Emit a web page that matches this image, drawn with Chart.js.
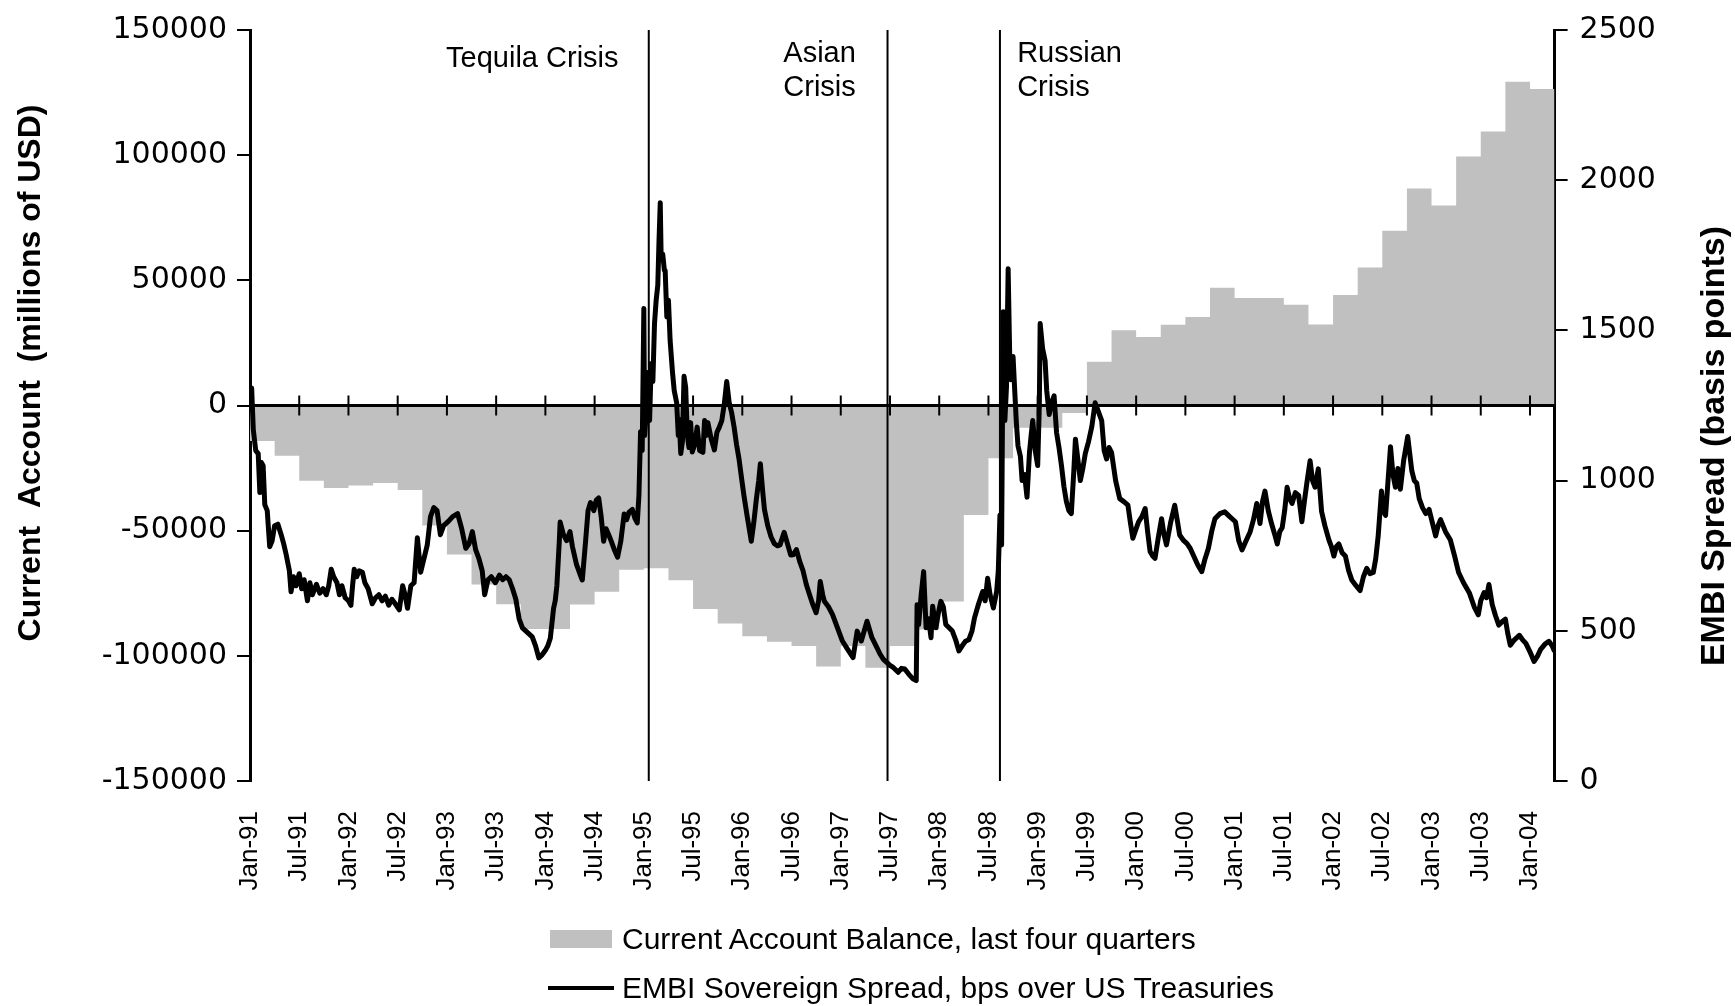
<!DOCTYPE html>
<html>
<head>
<meta charset="utf-8">
<script src="https://cdn.jsdelivr.net/npm/chart.js@4.4.1/dist/chart.umd.min.js"></script>
<style>
  html, body { margin: 0; padding: 0; background: #fff; }
  #wrap { position: relative; width: 1735px; height: 1006px; }
  .legend-row { position: absolute; left: 548px; height: 40px; display: flex; align-items: center;
    font-family: "Liberation Sans", Arial, sans-serif; font-size: 30px; color: #000; white-space: nowrap; }
  .swatch-box { width: 62px; height: 18px; background: #c0c0c0; margin-left: 2px; margin-right: 10px; }
  .swatch-line { width: 66px; height: 4px; background: #000; margin-right: 8px; }
</style>
</head>
<body>
<div id="wrap">
  <canvas id="embiChart" width="1735" height="1006"></canvas>
  <div class="legend-row" style="top:919px"><span class="swatch-box"></span><span>Current Account Balance, last four quarters</span></div>
  <div class="legend-row" style="top:968px"><span class="swatch-line"></span><span>EMBI Sovereign Spread, bps over US Treasuries</span></div>
</div>
<script>
// months counted from Jan-91 (0 = Jan-91)
const tickLabels = ['Jan-91','Jul-91','Jan-92','Jul-92','Jan-93','Jul-93','Jan-94','Jul-94','Jan-95','Jul-95',
  'Jan-96','Jul-96','Jan-97','Jul-97','Jan-98','Jul-98','Jan-99','Jul-99','Jan-00','Jul-00',
  'Jan-01','Jul-01','Jan-02','Jul-02','Jan-03','Jul-03','Jan-04'];

// current account, sum of last four quarters (millions of USD), one value per quarter from 1991Q1
const currentAccount = [
  -14200, -20100, -30100, -33000, -32000, -31000, -33800, -47900, -59500, -71500,
  -79400, -89300, -89300, -79500, -74400, -65600, -65000, -69800, -81300, -87100,
  -92200, -94400, -96100, -104300, -96100, -104800, -96100, -89500, -78300, -43700,
  -21100, -8900, -8900, -3000, 17500, 30100, 27400, 32300, 35400, 47000,
  42900, 42900, 40200, 32400, 44100, 55100, 69800, 86700, 79900, 99500,
  109500, 129300, 126400
];

const embiMonths = [
  0.1,0.2,0.4,0.7,1.0,1.2,1.4,1.6,1.8,2.1,2.4,2.7,3.0,3.4,3.8,4.1,4.4,4.8,5.0,5.3,5.6,6.0,6.3,6.6,7.0,7.3,7.6,8.1,8.5,8.9,
  9.3,9.6,9.9,10.2,10.6,10.9,11.2,11.6,12.0,12.3,12.5,12.7,13.0,13.3,13.7,14.0,14.4,14.9,15.3,15.7,16.1,16.5,16.9,17.3,17.7,18.2,18.6,18.9,19.2,19.6,
  20.0,20.4,20.8,21.2,21.6,22.0,22.4,22.8,23.2,23.6,24.2,24.7,25.3,25.8,26.3,26.7,27.1,27.5,27.9,28.3,28.6,29.0,29.4,29.9,30.4,30.8,31.2,31.6,32.0,32.4,
  32.8,33.2,33.6,34.0,34.4,34.8,35.2,35.6,36.0,36.3,36.6,37.0,37.2,37.4,37.7,37.8,38.2,38.6,39.0,39.3,39.8,40.2,40.5,40.9,41.2,41.5,41.9,42.2,42.5,42.8,
  43.1,43.4,43.7,44.0,44.4,44.8,45.2,45.6,45.9,46.2,46.6,46.9,47.2,47.4,47.6,47.8,48.0,48.1,48.3,48.5,48.7,48.9,49.1,49.3,49.5,49.7,49.85,50.0,50.1,50.3,
  50.5,50.6,50.8,51.0,51.2,51.5,51.7,52.0,52.2,52.3,52.5,52.7,52.9,53.1,53.3,53.5,53.7,53.9,54.2,54.5,54.8,55.2,55.4,55.6,55.8,56.2,56.6,56.9,57.2,57.5,
  57.8,58.1,58.4,58.7,59.0,59.3,59.6,59.9,60.2,60.6,61.1,61.4,61.7,62.0,62.2,62.5,62.7,63.1,63.5,63.9,64.3,64.6,65.1,65.5,65.9,66.2,66.6,67.0,67.4,67.8,
  68.2,68.6,69.0,69.3,69.5,69.8,70.0,70.5,71.0,71.6,72.2,72.8,73.5,74.0,74.5,75.2,75.8,76.3,76.8,77.2,77.6,78.0,78.4,79.0,79.4,79.8,80.3,80.8,81.2,81.3,
  81.5,81.8,82.1,82.4,82.7,83.0,83.2,83.6,83.9,84.2,84.5,84.8,85.2,85.6,86.0,86.4,86.8,87.2,87.6,88.0,88.3,88.8,89.3,89.6,89.9,90.2,90.6,91.0,91.2,91.4,
  91.6,91.8,92.0,92.2,92.4,92.6,92.7,93.0,93.2,93.4,93.6,93.9,94.1,94.4,94.7,95.0,95.2,95.4,95.7,96.0,96.2,96.3,96.6,96.9,97.1,97.4,97.7,98.0,98.3,98.6,
  98.9,99.2,99.5,99.8,100.1,100.4,100.6,100.9,101.2,101.5,101.8,102.2,102.6,103.0,103.4,103.8,104.1,104.4,104.7,105.0,105.5,106.0,106.5,107.0,107.3,107.6,108.0,108.3,108.7,109.1,
  109.4,109.7,110.0,110.3,110.7,111.1,111.4,111.7,112.2,112.7,113.0,113.3,113.8,114.2,114.6,115.0,115.5,116.0,116.4,116.8,117.2,117.6,118.2,118.8,119.4,120.1,120.5,120.9,121.4,121.9,
  122.3,122.7,123.1,123.4,123.7,124.1,124.5,124.9,125.2,125.5,125.8,126.1,126.4,126.7,127.0,127.4,127.8,128.2,128.5,128.8,129.2,129.5,129.8,130.2,130.6,131.0,131.5,131.8,132.1,132.4,
  132.7,133.1,133.5,133.9,134.3,134.8,135.3,135.7,136.1,136.5,136.9,137.2,137.5,137.9,138.1,138.4,138.7,139.0,139.3,139.6,139.9,140.2,140.6,141.1,141.3,141.6,141.9,142.2,142.5,142.9,
  143.3,143.7,144.1,144.5,144.8,145.1,145.7,146.3,146.8,147.3,147.9,148.6,149.2,149.7,150.0,150.4,150.7,151.0,151.4,151.8,152.2,152.6,153.0,153.3,153.6,154.1,154.7,155.1,155.5,156.0,
  156.5,156.9,157.3,157.8,158.3,158.7,159.0
];

const embiSpread = [
  1280,1308,1170,1100,1090,960,1060,1050,920,900,780,800,850,855,820,790,755,700,630,680,650,690,640,670,600,660,620,655,625,640,
  620,650,705,680,660,620,650,610,600,585,650,705,680,700,695,660,640,590,610,620,600,615,585,605,590,570,650,620,575,650,
  660,810,695,740,785,880,910,900,820,850,865,880,890,840,775,790,830,770,740,700,620,670,680,660,685,670,680,670,640,605,
  540,510,500,490,480,450,410,420,435,450,475,575,600,650,800,862,820,800,830,780,720,690,669,798,900,927,900,935,942,880,
  798,840,821,800,770,745,800,889,870,895,904,875,859,950,1163,1100,1573,1150,1230,1360,1200,1390,1330,1523,1600,1650,1800,1925,1760,1754,
  1700,1699,1545,1600,1468,1358,1300,1259,1150,1204,1090,1130,1347,1310,1150,1110,1193,1095,1120,1178,1100,1094,1200,1150,1193,1140,1102,1160,1178,1200,
  1254,1330,1260,1226,1178,1120,1072,1010,950,880,798,860,935,1000,1056,960,904,850,813,790,783,786,828,790,752,753,770,730,700,654,
  620,587,560,600,664,620,598,580,554,510,466,440,411,499,466,532,477,450,422,405,395,385,378,362,375,373,355,340,334,587,
  521,620,697,510,540,477,582,510,560,598,580,521,510,499,470,433,450,465,470,500,543,590,631,600,675,620,576,631,700,885,
  786,1562,1200,1314,1705,1400,1336,1413,1300,1193,1116,1080,1000,1020,945,1094,1150,1200,1100,1050,1250,1523,1440,1400,1300,1220,1260,1282,1160,1110,
  1050,980,930,900,890,1030,1138,1070,1000,1040,1090,1130,1180,1259,1230,1200,1100,1072,1110,1094,1000,940,930,918,860,808,840,863,880,907,
  830,764,750,741,810,873,820,786,860,918,870,819,800,790,774,750,720,697,740,774,830,873,890,896,880,863,800,769,800,830,
  870,924,857,930,965,900,857,820,789,830,843,900,978,940,924,960,951,863,930,991,1066,1000,978,1039,897,850,802,780,749,780,
  789,760,749,700,668,650,634,680,708,690,694,740,816,965,900,884,1000,1113,1020,978,1040,971,1066,1147,1100,1032,1000,991,940,910,
  890,904,860,816,850,870,830,802,750,694,660,627,580,553,600,627,610,654,587,550,519,530,539,490,452,470,485,470,458,430,
  398,415,438,455,465,450,431
];

// crisis markers (month from Jan-91)
const crisisMonths = [48.6, 77.7, 91.4];
// annotation texts: anchor month and level on the spread axis
const notes = [
  { lines: ['Tequila Crisis'], month: 23.9, level: 2402 },
  { lines: ['Asian', 'Crisis'], month: 65.0, level: 2419 },
  { lines: ['Russian', 'Crisis'], month: 93.5, level: 2419 }
];

const xMax = 159;

// quarterly step area: each value holds over its quarter
const caPoints = currentAccount.map((v, i) => ({ x: i * 3, y: v }));
caPoints.push({ x: xMax, y: currentAccount[currentAccount.length - 1] });

const embiPoints = embiMonths.map((m, i) => ({ x: m, y: embiSpread[i] }));

const overlay = {
  id: 'overlay',
  beforeDatasetDraw(chart, args) {
    if (args.index !== 1) return;
    const { ctx, chartArea, scales } = chart;
    const x = scales.x, y = scales.y, y1 = scales.y1;
    const y0 = y.getPixelForValue(0);
    ctx.save();
    ctx.strokeStyle = '#000';
    // zero line with tick marks
    ctx.lineWidth = 3;
    ctx.beginPath();
    ctx.moveTo(chartArea.left, y0);
    ctx.lineTo(chartArea.right, y0);
    ctx.stroke();
    ctx.lineWidth = 2;
    x.ticks.forEach(t => {
      if (t.value === 0) return;
      const px = x.getPixelForValue(t.value);
      ctx.beginPath();
      ctx.moveTo(px, y0 - 10);
      ctx.lineTo(px, y0 + 10);
      ctx.stroke();
    });
    // crisis lines
    crisisMonths.forEach(m => {
      const px = x.getPixelForValue(m);
      ctx.beginPath();
      ctx.moveTo(px, chartArea.top);
      ctx.lineTo(px, chartArea.bottom);
      ctx.stroke();
    });
    // crisis labels
    ctx.fillStyle = '#000';
    ctx.font = '29px "Liberation Sans", Arial, sans-serif';
    ctx.textAlign = 'left';
    ctx.textBaseline = 'middle';
    notes.forEach(n => {
      const px = x.getPixelForValue(n.month);
      const py = y1.getPixelForValue(n.level);
      n.lines.forEach((s, i) => ctx.fillText(s, px, py + i * 34));
    });
    ctx.restore();
  },
  afterDraw(chart) {
    const { ctx, chartArea } = chart;
    ctx.save();
    ctx.fillStyle = '#000';
    ctx.textAlign = 'center';
    ctx.textBaseline = 'middle';
    ctx.font = 'bold 32px "Liberation Sans", Arial, sans-serif';
    ctx.translate(31, chartArea.top + 343);
    ctx.rotate(-Math.PI / 2);
    ctx.fillText('Current  Account  (millions of USD)', 0, 0);
    ctx.restore();
    ctx.save();
    ctx.fillStyle = '#000';
    ctx.textAlign = 'center';
    ctx.textBaseline = 'middle';
    ctx.font = 'bold 34px "Liberation Sans", Arial, sans-serif';
    ctx.translate(chartArea.right + 160, chartArea.top + 416);
    ctx.rotate(-Math.PI / 2);
    ctx.fillText('EMBI Spread (basis points)', 0, 0);
    ctx.restore();
  }
};

const numFont = { family: '"DejaVu Sans", Arial, sans-serif', size: 30 };

new Chart(document.getElementById('embiChart').getContext('2d'), {
  type: 'line',
  data: {
    datasets: [{
      label: 'Current Account Balance, last four quarters',
      data: caPoints,
      yAxisID: 'y',
      stepped: true,
      fill: 'origin',
      backgroundColor: '#c0c0c0',
      borderColor: 'rgba(0,0,0,0)',
      borderWidth: 0,
      pointRadius: 0,
      order: 2
    }, {
      label: 'EMBI Sovereign Spread, bps over US Treasuries',
      data: embiPoints,
      yAxisID: 'y1',
      borderColor: '#000',
      borderWidth: 5,
      borderJoinStyle: 'round',
      pointRadius: 0,
      fill: false,
      tension: 0,
      order: 1
    }]
  },
  options: {
    responsive: false,
    animation: false,
    layout: { padding: { top: 24, left: 0, right: 0, bottom: 0 } },
    plugins: { legend: { display: false }, tooltip: { enabled: false } },
    scales: {
      x: {
        type: 'linear',
        min: 0,
        max: xMax,
        grid: { display: false },
        border: { display: false },
        ticks: {
          stepSize: 6,
          includeBounds: false,
          autoSkip: false,
          minRotation: 90,
          maxRotation: 90,
          padding: 22,
          color: '#000',
          font: { family: '"Liberation Sans", Arial, sans-serif', size: 26 },
          callback: v => tickLabels[Math.round(v / 6)]
        },
        afterFit: s => { s.height = 225; }
      },
      y: {
        position: 'left',
        min: -150000,
        max: 150000,
        grid: { drawOnChartArea: false, color: '#000', lineWidth: 2, tickLength: 13 },
        border: { color: '#000', width: 3 },
        ticks: { stepSize: 50000, padding: 10, color: '#000', font: numFont, callback: v => String(v) },
        afterFit: s => { s.width = 250; }
      },
      y1: {
        position: 'right',
        min: 0,
        max: 2500,
        grid: { drawOnChartArea: false, color: '#000', lineWidth: 2, tickLength: 13 },
        border: { color: '#000', width: 3 },
        ticks: { stepSize: 500, padding: 12, color: '#000', font: numFont, callback: v => String(v) },
        afterFit: s => { s.width = 180.4; }
      }
    }
  },
  plugins: [overlay]
});
</script>
</body>
</html>
